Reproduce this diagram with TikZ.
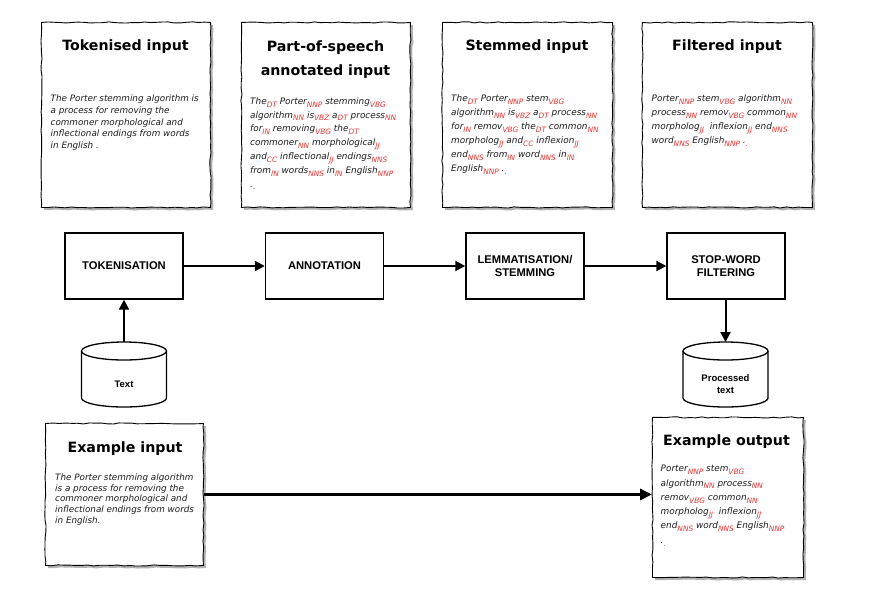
\documentclass[tikz,border=0pt]{standalone}
\usepackage{fontspec}
\setmainfont{DejaVu Sans}
\newfontfamily\arialf{Liberation Sans}
\usetikzlibrary{arrows.meta,decorations.pathmorphing,shadows}
\definecolor{tagred}{HTML}{E53935}
\definecolor{bodyink}{HTML}{1C1C1C}
\newcommand{\tg}[1]{\raisebox{-0.6ex}{\fontsize{7.4}{7.4}\selectfont\color{tagred}#1}}
\tikzset{
  paperbox/.style={draw=black, line width=0.9pt, fill=white, inner sep=0pt,
    anchor=north west, decorate,
    decoration={random steps, segment length=6pt, amplitude=0.6pt},
    drop shadow={shadow xshift=2.5pt, shadow yshift=-2.5pt, opacity=0.3, fill=black}},
  boxtitle/.style={font=\bfseries\fontsize{14.2}{24}\selectfont, align=center, inner sep=0pt, anchor=north},
  bodytext/.style={text=bodyink, align=left, inner sep=0pt, anchor=north west},
  procbox/.style={draw=black, line width=1.4pt, fill=white, minimum width=118pt, minimum height=66pt,
    inner sep=0pt, align=center, font=\arialf\bfseries\fontsize{11.2}{13.4}\selectfont},
  cyllabel/.style={font=\arialf\bfseries\fontsize{9.5}{12}\selectfont, align=center, inner sep=0pt},
  cyl/.style={draw=black, line width=1.3pt, fill=white},
  flow/.style={line width=2pt, -{Triangle[length=10pt,width=10pt]}},
}
\begin{document}
\begin{tikzpicture}[x=1pt,y=-1pt]
\useasboundingbox (0,0) rectangle (874,606);

% ---------- top paper boxes ----------
\node[paperbox, minimum width=169pt, minimum height=185pt] (tokin) at (41,22) {};
\node[paperbox, minimum width=169pt, minimum height=185pt] (posin) at (241,22) {};
\node[paperbox, minimum width=170pt, minimum height=185pt] (stemin) at (442,22) {};
\node[paperbox, minimum width=170pt, minimum height=185pt] (filtin) at (642,22) {};

\node[boxtitle] (tokinT) at (125.5,40) {Tokenised input};
\node[boxtitle] (posinT) at (325.5,41) {Part-of-speech\\annotated input};
\node[boxtitle] (steminT) at (527,40) {Stemmed input};
\node[boxtitle] (filtinT) at (727,40) {Filtered input};

\node[bodytext, font=\itshape\fontsize{8.8}{11.7}\selectfont] (tokinB) at (50.5,95) {%
The Porter stemming algorithm is\\
a process for removing the\\
commoner morphological and\\
inflectional endings from words\\
in English .};

\node[bodytext, font=\itshape\fontsize{8.9}{13.8}\selectfont] (posinB) at (250,97.3) {%
The\tg{DT} Porter\tg{NNP} stemming\tg{VBG}\\
algorithm\tg{NN} is\tg{VBZ} a\tg{DT} process\tg{NN}\\
for\tg{IN} removing\tg{VBG} the\tg{DT}\\
commoner\tg{NN} morphological\tg{JJ}\\
and\tg{CC} inflectional\tg{JJ} endings\tg{NNS}\\
from\tg{IN} words\tg{NNS} in\tg{IN} English\tg{NNP}\\
.\tg{.}};

\node[bodytext, font=\itshape\fontsize{8.9}{14}\selectfont] (steminB) at (451,95) {%
The\tg{DT} Porter\tg{NNP} stem\tg{VBG}\\
algorithm\tg{NN} is\tg{VBZ} a\tg{DT} process\tg{NN}\\
for\tg{IN} remov\tg{VBG} the\tg{DT} common\tg{NN}\\
morpholog\tg{JJ} and\tg{CC} inflexion\tg{JJ}\\
end\tg{NNS} from\tg{IN} word\tg{NNS} in\tg{IN}\\
English\tg{NNP} .\tg{.}};

\node[bodytext, font=\itshape\fontsize{8.9}{13.8}\selectfont] (filtinB) at (651.5,95) {%
Porter\tg{NNP} stem\tg{VBG} algorithm\tg{NN}\\
process\tg{NN} remov\tg{VBG} common\tg{NN}\\
morpholog\tg{JJ} \ inflexion\tg{JJ} end\tg{NNS}\\
word\tg{NNS} English\tg{NNP} .\tg{.}};

% ---------- process row ----------
\node[procbox] (tok) at (124,266) {TOKENISATION};
\node[procbox] (ann) at (324.5,266) {ANNOTATION};
\node[procbox] (lem) at (525,266) {LEMMATISATION/\\STEMMING};
\node[procbox] (stop) at (726,266) {STOP-WORD\\FILTERING};

\draw[flow] (tok) -- (ann);
\draw[flow] (ann) -- (lem);
\draw[flow] (lem) -- (stop);

% ---------- cylinders ----------
\draw[cyl] (81.5,351) -- (81.5,398) arc[start angle=180, end angle=0, x radius=42.5, y radius=9] -- (166.5,351);
\draw[cyl] (124,351) ellipse[x radius=42.5, y radius=9];
\coordinate (txttop) at (124,342);
\node[cyllabel] (txt) at (124,384) {Text};

\draw[cyl] (683,351) -- (683,398) arc[start angle=180, end angle=0, x radius=42.5, y radius=9] -- (768,351);
\draw[cyl] (725.5,351) ellipse[x radius=42.5, y radius=9];
\coordinate (proctop) at (725.5,342);
\node[cyllabel] (proc) at (725.5,384) {Processed\\text};

\draw[flow] (txttop) -- (tok.south);
\draw[flow] (stop.south -| proctop) -- (proctop);

% ---------- example boxes ----------
\node[paperbox, minimum width=158pt, minimum height=142pt] (exin) at (45,423) {};
\node[paperbox, minimum width=151pt, minimum height=160pt] (exout) at (652,417) {};

\node[boxtitle] (exinT) at (125,441.5) {Example input};
\node[boxtitle] (exoutT) at (726.5,434.5) {Example output};

\node[bodytext, font=\itshape\fontsize{8.8}{10.9}\selectfont] (exinB) at (55,473.3) {%
The Porter stemming algorithm\\
is a process for removing the\\
commoner morphological and\\
inflectional endings from words\\
in English.};

\node[bodytext, font=\itshape\fontsize{8.9}{14.3}\selectfont] (exoutB) at (660.5,465) {%
Porter\tg{NNP} stem\tg{VBG}\\
algorithm\tg{NN} process\tg{NN}\\
remov\tg{VBG} common\tg{NN}\\
morpholog\tg{JJ} \ inflexion\tg{JJ}\\
end\tg{NNS} word\tg{NNS} English\tg{NNP}\\
.\tg{.}};

\draw[flow, line width=3pt, -{Triangle[length=12pt,width=11pt]}] (exin.east) -- (exin.east -| exout.west);
\end{tikzpicture}
\end{document}
